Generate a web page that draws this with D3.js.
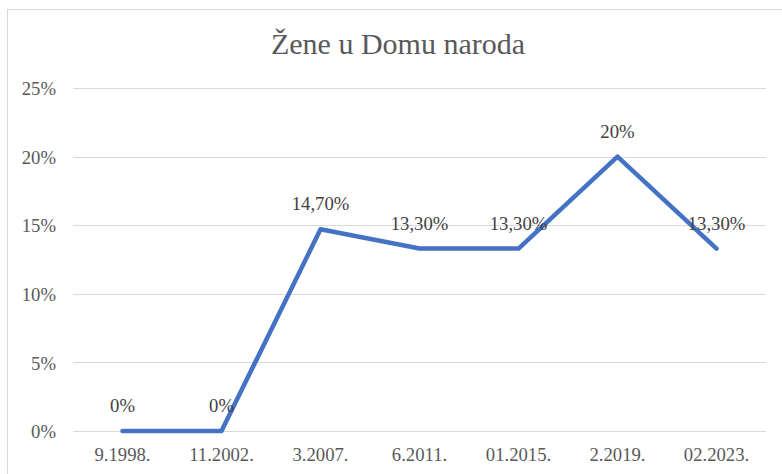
<!DOCTYPE html>
<html>
<head>
<meta charset="utf-8">
<script src="https://cdn.jsdelivr.net/npm/d3@7"></script>
<style>
  body { margin: 0; background: #fff; }
</style>
</head>
<body>
<svg id="chart"></svg>
<script>
// data
var categories = ["9.1998.", "11.2002.", "3.2007.", "6.2011.", "01.2015.", "2.2019.", "02.2023."];
var values = [0, 0, 14.7, 13.3, 13.3, 20, 13.3];
var valueLabels = ["0%", "0%", "14,70%", "13,30%", "13,30%", "20%", "13,30%"];
var yTicks = [0, 5, 10, 15, 20, 25];
var title = "Žene u Domu naroda";

var width = 782, height = 474;
var margin = { top: 88, right: 16, bottom: 43, left: 73 };
var serif = "'Liberation Serif'";

var svg = d3.select("#chart")
  .attr("width", width)
  .attr("height", height);

// chart border
svg.append("rect")
  .attr("x", 7.5).attr("y", 9.5)
  .attr("width", width + 10).attr("height", height)
  .attr("fill", "none")
  .attr("stroke", "#d9d9d9")
  .attr("stroke-width", 1);

var x = d3.scaleBand()
  .domain(categories)
  .range([margin.left, width - margin.right]);

var y = d3.scaleLinear()
  .domain([0, 25])
  .range([height - margin.bottom, margin.top]);

// title
svg.append("text")
  .attr("x", 398)
  .attr("y", 54)
  .attr("text-anchor", "middle")
  .style("font-family", serif)
  .style("font-size", "30px")
  .attr("fill", "#595959")
  .text(title);

// gridlines
svg.append("g")
  .selectAll("line")
  .data(yTicks)
  .enter()
  .append("line")
  .attr("x1", margin.left)
  .attr("x2", width - margin.right)
  .attr("y1", function (d) { return Math.round(y(d)) + 0.5; })
  .attr("y2", function (d) { return Math.round(y(d)) + 0.5; })
  .attr("stroke", "#d9d9d9")
  .attr("stroke-width", 1);

// y axis labels
var yAxis = d3.axisLeft(y)
  .tickValues(yTicks)
  .tickSize(0)
  .tickPadding(17)
  .tickFormat(function (d) { return d + "%"; });

svg.append("g")
  .attr("transform", "translate(" + margin.left + ",0)")
  .call(yAxis)
  .call(function (g) { g.select(".domain").remove(); })
  .selectAll("text")
  .attr("dy", "0.36em")
  .style("font-family", serif)
  .style("font-size", "18.7px")
  .attr("fill", "#595959");

// x axis labels
var xAxis = d3.axisBottom(x).tickSize(0).tickPadding(17);

svg.append("g")
  .attr("transform", "translate(0," + y(0) + ")")
  .call(xAxis)
  .call(function (g) { g.select(".domain").remove(); })
  .selectAll("text")
  .style("font-family", serif)
  .style("font-size", "18.7px")
  .attr("fill", "#595959");

// the line
var line = d3.line()
  .x(function (d, i) { return x(categories[i]) + x.bandwidth() / 2; })
  .y(function (d) { return y(d); });

svg.append("path")
  .datum(values)
  .attr("d", line)
  .attr("fill", "none")
  .attr("stroke", "#4472c4")
  .attr("stroke-width", 4.5)
  .attr("stroke-linejoin", "round")
  .attr("stroke-linecap", "round");

// data labels
svg.append("g")
  .selectAll("text")
  .data(values)
  .enter()
  .append("text")
  .attr("x", function (d, i) { return x(categories[i]) + x.bandwidth() / 2; })
  .attr("y", function (d) { return y(d) - 19; })
  .attr("text-anchor", "middle")
  .style("font-family", serif)
  .style("font-size", "18.7px")
  .attr("fill", "#404040")
  .text(function (d, i) { return valueLabels[i]; });
</script>
</body>
</html>
